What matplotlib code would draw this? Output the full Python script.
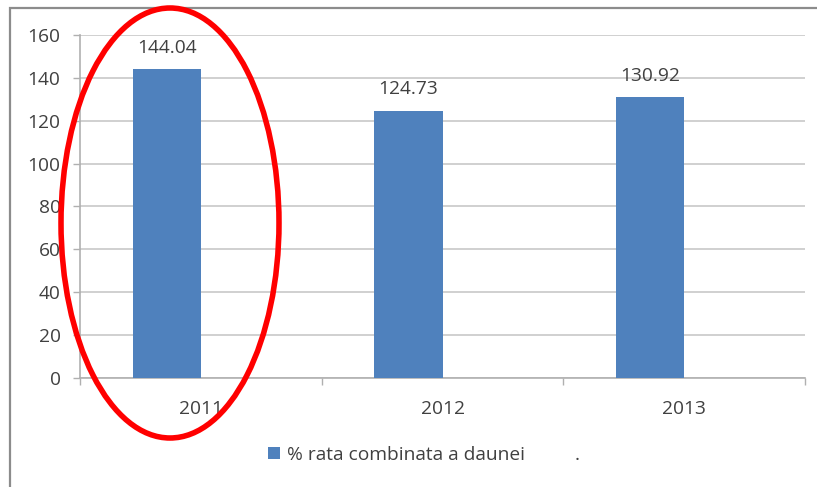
import numpy as np
import matplotlib
matplotlib.use("Agg")
import matplotlib.pyplot as plt
from matplotlib.patches import Ellipse, Rectangle

plt.rcParams['font.family'] = ['Open Sans', 'DejaVu Sans']

# date
ani = ['2011', '2012', '2013']
rata_combinata = [144.04, 124.73, 130.92]
serie_goala = [0, 0, 0]   # a doua serie din legenda (".") nu are valori vizibile
yticks = [0, 20, 40, 60, 80, 100, 120, 140, 160]

culoare_bara = '#4f81bd'
culoare_text = '#404040'
culoare_grila = '#c8c8c8'
fs = 13.8

fig = plt.figure(figsize=(8.17, 4.87), dpi=100)
ax = fig.add_axes([80 / 817, 1 - 377.7 / 487, 725 / 817, (377.7 - 35) / 487])

x = np.arange(len(ani))
w = 0.282
bare = ax.bar(x - w / 2, rata_combinata, width=w, color=culoare_bara,
              label='% rata combinata a daunei', zorder=3)
ax.bar(x + w / 2, serie_goala, width=w, color='white', label='.', zorder=3)

for b, v in zip(bare, rata_combinata):
    ax.annotate(f'{v:.2f}', (b.get_x() + b.get_width() / 2, v),
                xytext=(0, 9), textcoords='offset points', ha='center', va='bottom',
                fontsize=fs, color=culoare_text, zorder=4)

ax.set_xlim(-0.5, 2.5)
ax.set_ylim(0, 160)
ax.set_yticks(yticks)
ax.yaxis.grid(True, color=culoare_grila, linewidth=1.2, zorder=0)
ax.set_axisbelow(True)

ax.set_xticks(x)
ax.set_xticklabels(ani)
ax.set_xticks([-0.5, 0.5, 1.5, 2.5], minor=True)
ax.tick_params(axis='x', which='major', length=0, pad=16, labelsize=fs, labelcolor=culoare_text)
ax.tick_params(axis='x', which='minor', length=5, color='#b0b0b0', width=1)
ax.tick_params(axis='y', length=5, color='#b0b0b0', width=1, pad=9, labelsize=fs,
               labelcolor=culoare_text)

for s in ['top', 'right']:
    ax.spines[s].set_visible(False)
for s in ['left', 'bottom']:
    ax.spines[s].set_color('#b0b0b0')
    ax.spines[s].set_linewidth(1.2)

leg = ax.legend(loc='center', bbox_to_anchor=(424 / 817, 1 - 455 / 487),
                bbox_transform=fig.transFigure, ncol=2, frameon=False,
                fontsize=fs, handlelength=0.6, handleheight=0.6,
                handletextpad=0.4, columnspacing=1.6)
for t in leg.get_texts():
    t.set_color(culoare_text)

# chenarul graficului
fig.patches.append(Rectangle((10 / 817, -0.1), 1.2, 1 - 8 / 487 + 0.1,
                             transform=fig.transFigure, fill=False,
                             edgecolor='#8c8c8c', linewidth=1.6))

# elipsa rosie in jurul anului 2011
fig.patches.append(Ellipse((170 / 817, 1 - 223 / 487), 218 / 817, 430 / 487,
                           transform=fig.transFigure, fill=False,
                           edgecolor='#ff0000', linewidth=4, zorder=10))

fig.savefig('out.png', dpi=100)
